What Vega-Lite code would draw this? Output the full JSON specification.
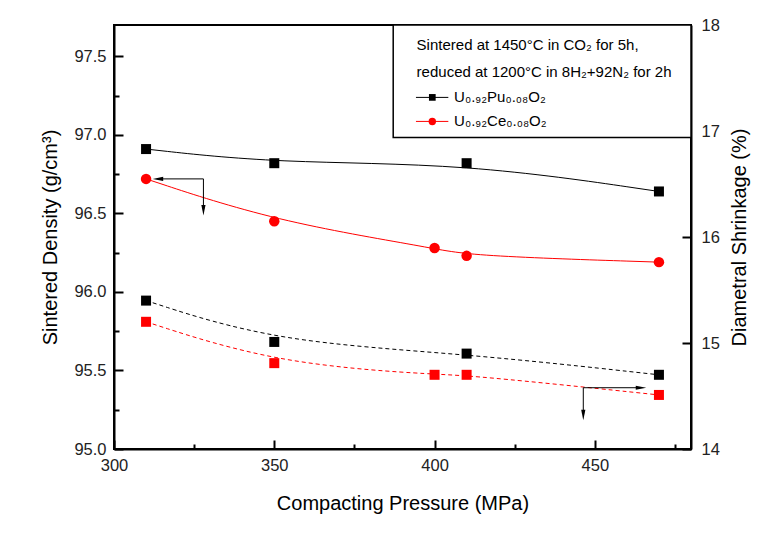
{
  "$schema": "https://vega.github.io/schema/vega-lite/v6.json",
  "width": 577,
  "height": 424,
  "autosize": "none",
  "padding": {"left": 114, "top": 25, "right": 90, "bottom": 86},
  "background": "white",
  "config": {
    "font": "Liberation Sans",
    "view": {"stroke": "black", "strokeWidth": 2},
    "axis": {"grid": false, "domainColor": "black", "domainWidth": 2, "tickColor": "black", "tickWidth": 2, "labelColor": "#222", "labelFontSize": 16.5, "labelFont": "Liberation Sans", "titleFont": "Liberation Sans", "titleFontSize": 20, "titleFontWeight": "normal", "titleColor": "black", "labelFlush": false, "labelOverlap": false}
  },
  "datasets": {
    "density": [
      {"p": 310, "d": 96.91, "s": "Pu"}, {"p": 350, "d": 96.82, "s": "Pu"}, {"p": 410, "d": 96.82, "s": "Pu"}, {"p": 470, "d": 96.64, "s": "Pu"},
      {"p": 310, "d": 96.72, "s": "Ce"}, {"p": 350, "d": 96.45, "s": "Ce"}, {"p": 400, "d": 96.28, "s": "Ce"}, {"p": 410, "d": 96.23, "s": "Ce"}, {"p": 470, "d": 96.19, "s": "Ce"}
    ],
    "shrinkage": [
      {"p": 310, "v": 15.40, "s": "Pu"}, {"p": 350, "v": 15.01, "s": "Pu"}, {"p": 410, "v": 14.90, "s": "Pu"}, {"p": 470, "v": 14.70, "s": "Pu"},
      {"p": 310, "v": 15.20, "s": "Ce"}, {"p": 350, "v": 14.81, "s": "Ce"}, {"p": 400, "v": 14.70, "s": "Ce"}, {"p": 410, "v": 14.70, "s": "Ce"}, {"p": 470, "v": 14.51, "s": "Ce"}
    ]
  },
  "layer": [
    {
      "layer": [
        {
          "data": {"name": "density"},
          "mark": {"type": "line", "interpolate": "basis", "strokeWidth": 1},
          "encoding": {
            "x": {"field": "p", "type": "quantitative", "title": "Compacting Pressure (MPa)",
              "scale": {"domain": [300, 480], "nice": false, "zero": false},
              "axis": {"orient": "bottom", "values": [300, 325, 350, 375, 400, 425, 450, 475], "labelExpr": "datum.value % 50 === 0 ? datum.label : ''", "tickSize": {"condition": {"test": "datum.value % 50 === 0", "value": -9}, "value": -5}, "labelPadding": 17, "titlePadding": 16}},
            "y": {"field": "d", "type": "quantitative", "title": "Sintered Density (g/cm³)",
              "scale": {"domain": [95, 97.7], "nice": false, "zero": false},
              "axis": {"orient": "left", "values": [95, 95.25, 95.5, 95.75, 96, 96.25, 96.5, 96.75, 97, 97.25, 97.5], "format": ".1f", "labelExpr": "datum.value % 0.5 === 0 ? datum.label : ''", "tickSize": {"condition": {"test": "datum.value % 0.5 === 0", "value": -9}, "value": -5}, "labelPadding": 17, "titlePadding": 13}},
            "color": {"field": "s", "type": "nominal", "scale": {"domain": ["Pu", "Ce"], "range": ["#000000", "#ff0000"]}, "legend": null}
          }
        },
        {
          "data": {"name": "density"},
          "transform": [{"filter": "datum.s === 'Pu'"}],
          "mark": {"type": "point", "shape": "square", "filled": true, "size": 100, "color": "#000000", "opacity": 1},
          "encoding": {"x": {"field": "p", "type": "quantitative", "title": "Compacting Pressure (MPa)"}, "y": {"field": "d", "type": "quantitative", "title": "Sintered Density (g/cm³)"}}
        },
        {
          "data": {"name": "density"},
          "transform": [{"filter": "datum.s === 'Ce'"}],
          "mark": {"type": "point", "shape": "circle", "filled": true, "size": 110, "color": "#ff0000", "opacity": 1},
          "encoding": {"x": {"field": "p", "type": "quantitative", "title": "Compacting Pressure (MPa)"}, "y": {"field": "d", "type": "quantitative", "title": "Sintered Density (g/cm³)"}}
        },
        {
          "data": {"values": [{"p": 315, "p2": 327.9, "d": 96.72, "d2": 96.72}, {"p": 327.9, "p2": 327.9, "d": 96.72, "d2": 96.55}]},
          "mark": {"type": "rule", "color": "#000000", "strokeWidth": 1},
          "encoding": {"x": {"field": "p", "type": "quantitative", "title": "Compacting Pressure (MPa)"}, "x2": {"field": "p2"}, "y": {"field": "d", "type": "quantitative", "title": "Sintered Density (g/cm³)"}, "y2": {"field": "d2"}}
        },
        {
          "data": {"values": [{"p": 313.7, "d": 96.72}]},
          "mark": {"type": "point", "shape": "M -1 0 L 1 -0.4 L 1 0.4 Z", "filled": true, "size": 110, "color": "#000000", "opacity": 1},
          "encoding": {"x": {"field": "p", "type": "quantitative", "title": "Compacting Pressure (MPa)"}, "y": {"field": "d", "type": "quantitative", "title": "Sintered Density (g/cm³)"}}
        },
        {
          "data": {"values": [{"p": 327.9, "d": 96.52}]},
          "mark": {"type": "point", "shape": "M 0 1 L -0.4 -1 L 0.4 -1 Z", "filled": true, "size": 110, "color": "#000000", "opacity": 1},
          "encoding": {"x": {"field": "p", "type": "quantitative", "title": "Compacting Pressure (MPa)"}, "y": {"field": "d", "type": "quantitative", "title": "Sintered Density (g/cm³)"}}
        },
        {
          "data": {"values": [{"p": 387.1, "p2": 480, "d": 97.7, "d2": 96.984}]},
          "mark": {"type": "rect", "fill": "white", "stroke": "#000000", "strokeWidth": 1.5},
          "encoding": {"x": {"field": "p", "type": "quantitative", "title": "Compacting Pressure (MPa)"}, "x2": {"field": "p2"}, "y": {"field": "d", "type": "quantitative", "title": "Sintered Density (g/cm³)"}, "y2": {"field": "d2"}}
        },
        {
          "data": {"values": [
            {"p": 394.4, "d": 97.57, "label": "Sintered at 1450°C in CO₂ for 5h,"},
            {"p": 394.4, "d": 97.398, "label": "reduced at 1200°C in 8H₂+92N₂ for 2h"},
            {"p": 406.1, "d": 97.239, "label": "U₀.₉₂Pu₀.₀₈O₂"},
            {"p": 406.1, "d": 97.086, "label": "U₀.₉₂Ce₀.₀₈O₂"}
          ]},
          "mark": {"type": "text", "align": "left", "baseline": "middle", "fontSize": 15, "font": "Liberation Sans", "color": "#000000"},
          "encoding": {"x": {"field": "p", "type": "quantitative", "title": "Compacting Pressure (MPa)"}, "y": {"field": "d", "type": "quantitative", "title": "Sintered Density (g/cm³)"}, "text": {"field": "label"}}
        },
        {
          "data": {"values": [{"p": 394.2, "p2": 404.3, "d": 97.239, "s": "Pu"}, {"p": 394.2, "p2": 404.3, "d": 97.086, "s": "Ce"}]},
          "mark": {"type": "rule", "strokeWidth": 1},
          "encoding": {"x": {"field": "p", "type": "quantitative", "title": "Compacting Pressure (MPa)"}, "x2": {"field": "p2"}, "y": {"field": "d", "type": "quantitative", "title": "Sintered Density (g/cm³)"}, "color": {"field": "s", "type": "nominal", "legend": null}}
        },
        {
          "data": {"values": [{"p": 399.3, "d": 97.239}]},
          "mark": {"type": "point", "shape": "square", "filled": true, "size": 45, "color": "#000000", "opacity": 1},
          "encoding": {"x": {"field": "p", "type": "quantitative", "title": "Compacting Pressure (MPa)"}, "y": {"field": "d", "type": "quantitative", "title": "Sintered Density (g/cm³)"}}
        },
        {
          "data": {"values": [{"p": 399.3, "d": 97.086}]},
          "mark": {"type": "point", "shape": "circle", "filled": true, "size": 55, "color": "#ff0000", "opacity": 1},
          "encoding": {"x": {"field": "p", "type": "quantitative", "title": "Compacting Pressure (MPa)"}, "y": {"field": "d", "type": "quantitative", "title": "Sintered Density (g/cm³)"}}
        }
      ]
    },
    {
      "layer": [
        {
          "data": {"name": "shrinkage"},
          "mark": {"type": "line", "interpolate": "basis", "strokeWidth": 1, "strokeDash": [4, 3]},
          "encoding": {
            "x": {"field": "p", "type": "quantitative", "title": "Compacting Pressure (MPa)"},
            "y": {"field": "v", "type": "quantitative", "title": "Diametral Shrinkage (%)",
              "scale": {"domain": [14, 18], "nice": false, "zero": false},
              "axis": {"orient": "right", "values": [14, 14.5, 15, 15.5, 16, 16.5, 17, 17.5, 18], "format": "d", "labelExpr": "datum.value % 1 === 0 ? datum.label : ''", "tickSize": {"condition": {"test": "datum.value % 1 === 0", "value": -9}, "value": -5}, "labelPadding": 19, "titlePadding": 10, "titleAngle": 270, "titleBaseline": "top"}},
            "color": {"field": "s", "type": "nominal", "legend": null}
          }
        },
        {
          "data": {"name": "shrinkage"},
          "mark": {"type": "point", "shape": "square", "filled": true, "size": 100, "opacity": 1},
          "encoding": {"x": {"field": "p", "type": "quantitative", "title": "Compacting Pressure (MPa)"}, "y": {"field": "v", "type": "quantitative", "title": "Diametral Shrinkage (%)"}, "color": {"field": "s", "type": "nominal", "legend": null}}
        },
        {
          "data": {"values": [{"p": 446.4, "p2": 463, "v": 14.578, "v2": 14.578}, {"p": 446.4, "p2": 446.4, "v": 14.578, "v2": 14.35}]},
          "mark": {"type": "rule", "color": "#000000", "strokeWidth": 1},
          "encoding": {"x": {"field": "p", "type": "quantitative", "title": "Compacting Pressure (MPa)"}, "x2": {"field": "p2"}, "y": {"field": "v", "type": "quantitative", "title": "Diametral Shrinkage (%)"}, "y2": {"field": "v2"}}
        },
        {
          "data": {"values": [{"p": 464.4, "v": 14.578}]},
          "mark": {"type": "point", "shape": "M 1 0 L -1 -0.4 L -1 0.4 Z", "filled": true, "size": 110, "color": "#000000", "opacity": 1},
          "encoding": {"x": {"field": "p", "type": "quantitative", "title": "Compacting Pressure (MPa)"}, "y": {"field": "v", "type": "quantitative", "title": "Diametral Shrinkage (%)"}}
        },
        {
          "data": {"values": [{"p": 446.4, "v": 14.321}]},
          "mark": {"type": "point", "shape": "M 0 1 L -0.4 -1 L 0.4 -1 Z", "filled": true, "size": 110, "color": "#000000", "opacity": 1},
          "encoding": {"x": {"field": "p", "type": "quantitative", "title": "Compacting Pressure (MPa)"}, "y": {"field": "v", "type": "quantitative", "title": "Diametral Shrinkage (%)"}}
        }
      ]
    }
  ],
  "resolve": {"scale": {"y": "independent"}}
}
